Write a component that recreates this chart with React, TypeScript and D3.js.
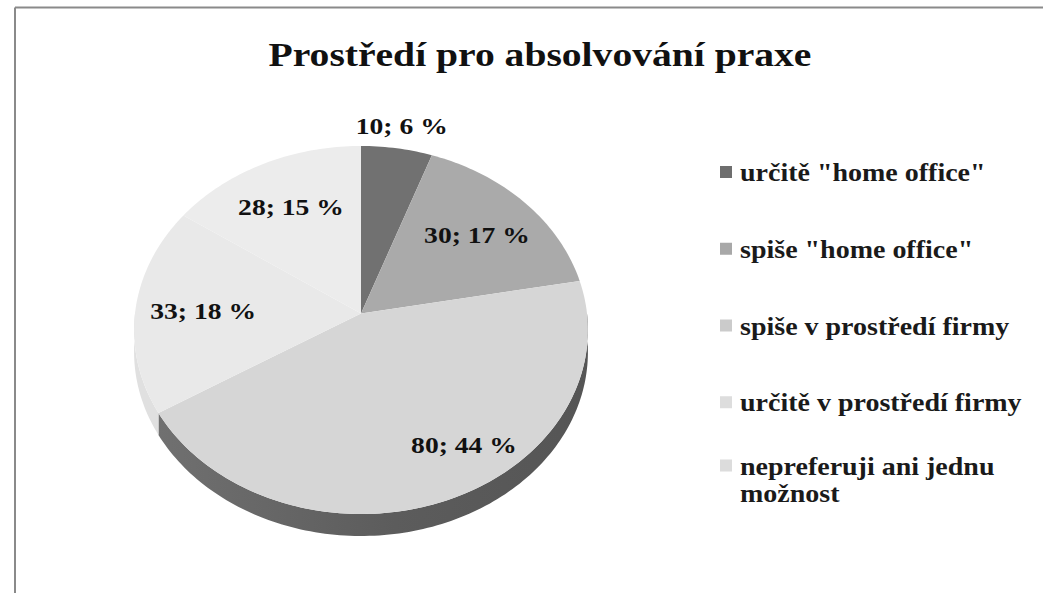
import * as React from 'react';
import * as d3 from 'd3';

// chart data
const categories: string[] = [
	'určitě "home office"',
	'spiše "home office"',
	'spiše v prostředí firmy',
	'určitě v prostředí firmy',
	'nepreferuji ani jednu možnost',
];
const counts: number[] = [10, 30, 80, 33, 28];
const percentLabels: string[] = ['6 %', '17 %', '44 %', '18 %', '15 %'];
const topColors: string[] = ['#717171', '#aaaaaa', '#d6d6d6', '#e9e9e9', '#ececec'];
const sideColors: string[] = ['#4a4a4a', '#7a7a7a', 'url(#sideGrad)', '#e0e0e0', '#e2e2e2'];
const legendColors: string[] = ['#6e6e6e', '#a8a8a8', '#cbcbcb', '#dddddd', '#dcdcdc'];
const legendLines: string[][] = [
	['určitě "home office"'],
	['spiše "home office"'],
	['spiše v prostředí firmy'],
	['určitě v prostředí firmy'],
	['nepreferuji ani jednu', 'možnost'],
];

const WIDTH = 1043;
const HEIGHT = 593;
const FONT = '"Liberation Serif", "Times New Roman", serif';

// geometry of the tilted pie
const cx = 361;
const cy = 330;
const rx = 226;
const ry = 184;
const depth = 22;
const persp = -0.09; // moves the apex up a little, like excel's perspective

// project a point on the flat disc (angle clockwise from top, radius fraction k)
const project = (angle: number, k: number): [number, number] => {
	const u = k * Math.sin(angle);
	const v = -k * Math.cos(angle);
	const w = 1 + persp * v;
	return [cx + (rx * u) / w, cy + (ry * (v + persp)) / w];
};

const edge = (a0: number, a1: number, k = 1): [number, number][] => {
	const n = Math.max(2, Math.ceil(Math.abs(a1 - a0) / 0.02));
	return d3.range(n + 1).map((i) => project(a0 + ((a1 - a0) * i) / n, k));
};

const line = d3.line<[number, number]>().curve(d3.curveLinear);

const App: React.FC = () => {
	React.useEffect(() => {
		document.body.style.margin = '0';
		document.body.style.overflow = 'hidden';
	}, []);

	const arcs = d3
		.pie<number>()
		.sort(null)
		.startAngle(0)
		.endAngle(Math.PI * 2)(counts);

	// visible outer wall: the front half of the disc
	const sides = arcs.map((d, i) => {
		const s = Math.max(d.startAngle, Math.PI / 2);
		const e = Math.min(d.endAngle, (Math.PI * 3) / 2);
		if (e <= s) return null;
		const top = edge(s, e);
		const bottom = top.map(([x, y]) => [x, y + depth] as [number, number]).reverse();
		return <path key={'side' + i} d={line([...top, ...bottom]) + 'Z'} fill={sideColors[i]} />;
	});

	const faces = arcs.map((d, i) => {
		const pts = [project(0, 0), ...edge(d.startAngle, d.endAngle)];
		return <path key={'face' + i} d={line(pts) + 'Z'} fill={topColors[i]} />;
	});

	const labels = arcs.map((d, i) => {
		const mid = (d.startAngle + d.endAngle) / 2;
		const span = d.endAngle - d.startAngle;
		const small = span < Math.PI / 6;
		// wide slices get their label pushed a bit further out, as excel does
		const k = small ? 1.15 : span > Math.PI / 2 ? 0.8 : 0.7;
		const [x, y] = project(mid - (span > Math.PI / 2 ? 0.2 : 0), k);
		return (
			<text
				key={'lbl' + i}
				transform={`translate(${x},${y}) scale(1.15,1)`}
				textAnchor="middle"
				dy="0.36em"
				fontFamily={FONT}
				fontWeight="bold"
				fontSize={24}
				fill="#111"
			>
				{`${counts[i]}; ${percentLabels[i]}`}
			</text>
		);
	});

	const legendY = d3.scalePoint<number>().domain(d3.range(categories.length)).range([172, 479]);

	const legend = categories.map((c, i) => {
		const yc = legendY(i) as number;
		const lines = legendLines[i];
		const lineGap = 27;
		const firstY = yc - ((lines.length - 1) * lineGap) / 2;
		return (
			<g key={'leg' + i}>
				<rect x={720} y={firstY - 6} width={12} height={12} fill={legendColors[i]} />
				{lines.map((t, j) => (
					<text
						key={j}
						transform={`translate(740,${firstY + j * lineGap}) scale(1.12,1)`}
						dy="0.36em"
						fontFamily={FONT}
						fontWeight="bold"
						fontSize={25}
						fill="#1a1a1a"
					>
						{t}
					</text>
				))}
			</g>
		);
	});

	return (
		<svg width={WIDTH} height={HEIGHT} style={{ display: 'block', background: '#fff' }}>
			<defs>
				<linearGradient id="sideGrad" x1="0" x2="1" y1="0" y2="0">
					<stop offset="0%" stopColor="#707070" />
					<stop offset="55%" stopColor="#5c5c5c" />
					<stop offset="100%" stopColor="#555555" />
				</linearGradient>
			</defs>
			<rect x={0} y={0} width={WIDTH} height={HEIGHT} fill="#fff" />
			{/* chart frame, only top and left edges fall inside the picture */}
			<line x1={15} y1={7.5} x2={WIDTH} y2={7.5} stroke="#8a8a8a" strokeWidth={2} />
			<line x1={15} y1={7.5} x2={15} y2={HEIGHT} stroke="#8a8a8a" strokeWidth={2} />
			<text
				transform={`translate(540,66) scale(1.2,1)`}
				textAnchor="middle"
				fontFamily={FONT}
				fontWeight="bold"
				fontSize={33}
				fill="#111"
			>
				Prostředí pro absolvování praxe
			</text>
			<g>{sides}</g>
			<g>{faces}</g>
			<g>{labels}</g>
			<g>{legend}</g>
		</svg>
	);
};

export default App;
